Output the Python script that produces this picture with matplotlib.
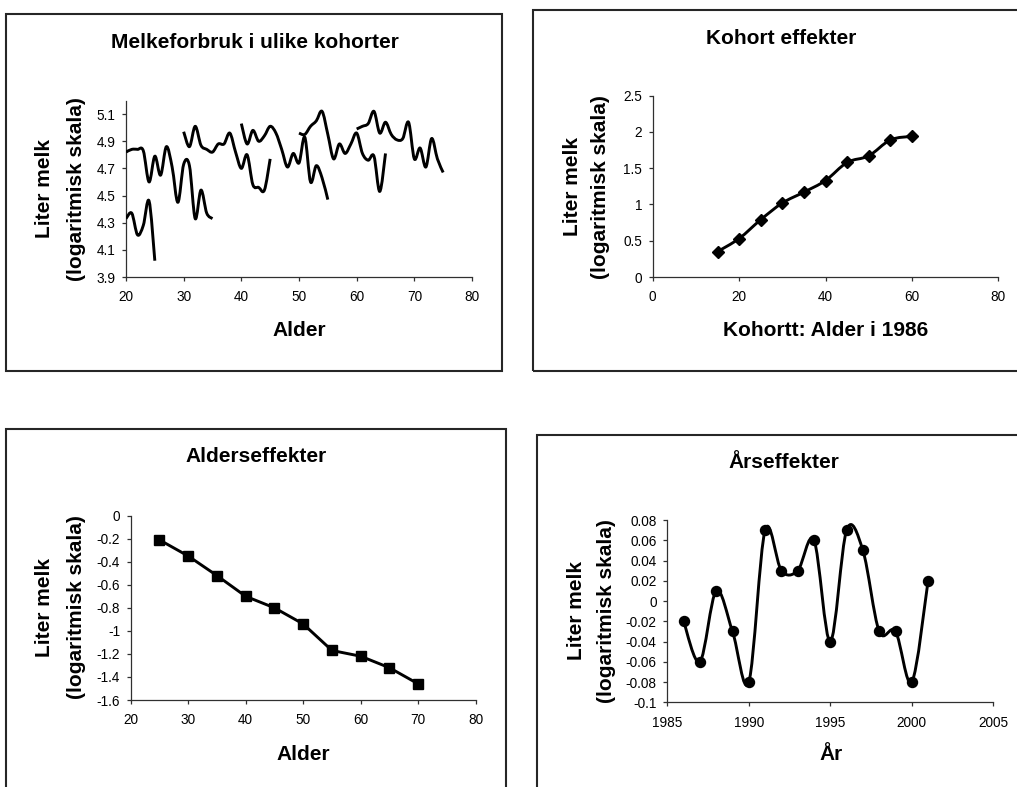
import numpy as np
import matplotlib
matplotlib.use("Agg")
import matplotlib.pyplot as plt
from matplotlib.path import Path
from matplotlib.patches import PathPatch, Rectangle
import matplotlib.ticker as mticker

plt.rcParams["font.family"] = ["Liberation Sans", "DejaVu Sans"]
plt.rcParams["axes.unicode_minus"] = False

W, H = 1017, 787
LINE_CLR = "#000000"
AXIS_CLR = "#303030"
BOX_CLR = "#262626"

# Melkeforbruk i ulike kohorter (alder, log liter)
coh_a_age = [20, 21, 22, 23, 24, 25]
coh_a_val = [4.33, 4.37, 4.21, 4.28, 4.46, 4.02]
coh_b_age = list(range(20, 36))
coh_b_val = [4.82, 4.84, 4.84, 4.83, 4.60, 4.79, 4.65, 4.86,
             4.71, 4.45, 4.73, 4.72, 4.33, 4.54, 4.37, 4.33]
coh_c_age = list(range(30, 46))
coh_c_val = [4.97, 4.86, 5.01, 4.87, 4.84, 4.82, 4.88, 4.88,
             4.96, 4.82, 4.70, 4.80, 4.58, 4.56, 4.54, 4.77]
coh_d_age = list(range(40, 56))
coh_d_val = [5.03, 4.88, 4.98, 4.90, 4.94, 5.01, 4.96, 4.84,
             4.71, 4.81, 4.74, 4.93, 4.60, 4.72, 4.63, 4.47]
coh_e_age = list(range(50, 66))
coh_e_val = [4.96, 4.95, 5.01, 5.05, 5.12, 4.95, 4.77, 4.88,
             4.81, 4.88, 4.96, 4.81, 4.76, 4.79, 4.53, 4.81]
coh_f_age = list(range(60, 76))
coh_f_val = [4.99, 5.01, 5.03, 5.12, 4.96, 5.04, 4.95, 4.91,
             4.92, 5.04, 4.77, 4.85, 4.71, 4.92, 4.77, 4.67]

# Kohort effekter
kohort_alder = [15, 20, 25, 30, 35, 40, 45, 50, 55, 60]
kohort_eff = [0.35, 0.53, 0.79, 1.02, 1.17, 1.33, 1.58, 1.67, 1.89, 1.94]

# Alderseffekter
alder = [25, 30, 35, 40, 45, 50, 55, 60, 65, 70]
alder_eff = [-0.21, -0.35, -0.52, -0.70, -0.80, -0.94, -1.17, -1.22, -1.32, -1.46]

# Årseffekter
aar = list(range(1986, 2002))
aar_eff = [-0.02, -0.06, 0.01, -0.03, -0.08, 0.07, 0.03, 0.03,
           0.06, -0.04, 0.07, 0.05, -0.03, -0.03, -0.08, 0.02]


def fx(px):
    return px / W


def fy(py):
    return 1 - py / H


def smooth_path(x, y):
    # Excel-style smoothed line (Catmull-Rom as cubic Bezier)
    pts = np.column_stack([x, y]).astype(float)
    n = len(pts)
    verts = [pts[0]]
    codes = [Path.MOVETO]
    for i in range(n - 1):
        p0 = pts[i - 1] if i > 0 else pts[i]
        p1, p2 = pts[i], pts[i + 1]
        p3 = pts[i + 2] if i + 2 < n else pts[i + 1]
        verts += [p1 + (p2 - p0) / 6, p2 - (p3 - p1) / 6, p2]
        codes += [Path.CURVE4] * 3
    return Path(verts, codes)


def add_smooth(ax, x, y):
    patch = PathPatch(smooth_path(x, y), fill=False, lw=2.1, ec=LINE_CLR,
                      joinstyle="round", capstyle="butt", zorder=3)
    ax.add_patch(patch)


def fmt(v, _):
    if abs(v) < 1e-9:
        return "0"
    return f"{v:g}"


def make_axes(fig, x0, x1, ytop, ybot):
    ax = fig.add_axes([fx(x0), fy(ybot), fx(x1 - x0), (ybot - ytop) / H])
    for s in ("top", "right"):
        ax.spines[s].set_visible(False)
    for s in ("left", "bottom"):
        ax.spines[s].set_color(AXIS_CLR)
        ax.spines[s].set_linewidth(0.9)
    ax.tick_params(direction="out", length=3.2, width=0.9, color=AXIS_CLR,
                   labelsize=9.8)
    ax.tick_params(axis="x", pad=6.5)
    ax.tick_params(axis="y", pad=4.5)
    ax.yaxis.set_major_formatter(mticker.FuncFormatter(fmt))
    ax.xaxis.set_major_formatter(mticker.FuncFormatter(fmt))
    return ax


def panel_text(fig, title, tx, ty, xlabel, xx, xy, ylx1, ylx2, yly):
    fig.text(fx(tx), fy(ty), title, ha="center", va="baseline",
             fontsize=15, fontweight="bold")
    fig.text(fx(xx), fy(xy), xlabel, ha="center", va="baseline",
             fontsize=15, fontweight="bold")
    fig.text(fx(ylx1), fy(yly), "Liter melk", ha="center", va="center",
             rotation=90, fontsize=15, fontweight="bold")
    fig.text(fx(ylx2), fy(yly), "(logaritmisk skala)", ha="center", va="center",
             rotation=90, fontsize=15, fontweight="bold")


def box(fig, x0, y0, x1, y1):
    fig.add_artist(Rectangle((fx(x0), fy(y1)), fx(x1 - x0), (y1 - y0) / H,
                             transform=fig.transFigure, fill=False,
                             ec=BOX_CLR, lw=1.5))


fig = plt.figure(figsize=(W / 100, H / 100), dpi=100, facecolor="white")

box(fig, 6, 14, 502, 370.5)
box(fig, 532.5, 10, 1030, 370.5)
box(fig, 6, 429, 506, 800)
box(fig, 536.5, 435, 1030, 800)

# Melkeforbruk i ulike kohorter
ax1 = make_axes(fig, 126, 472, 100.5, 277)
for ages, vals in [(coh_a_age, coh_a_val), (coh_b_age, coh_b_val),
                   (coh_c_age, coh_c_val), (coh_d_age, coh_d_val),
                   (coh_e_age, coh_e_val), (coh_f_age, coh_f_val)]:
    add_smooth(ax1, ages, vals)
ax1.set_xlim(20, 80)
ax1.set_ylim(3.9, 5.2)
ax1.set_xticks(range(20, 81, 10))
ax1.set_yticks(np.round(np.arange(3.9, 5.11, 0.2), 1))
panel_text(fig, "Melkeforbruk i ulike kohorter", 254.5, 48,
           "Alder", 299, 336.5, 44.5, 76, 189)

# Kohort effekter
ax2 = make_axes(fig, 652.7, 998.3, 95.7, 277)
add_smooth(ax2, kohort_alder, kohort_eff)
ax2.plot(kohort_alder, kohort_eff, ls="none", marker="D", ms=6.2,
         color=LINE_CLR, zorder=4)
ax2.set_xlim(0, 80)
ax2.set_ylim(0, 2.5)
ax2.set_xticks(range(0, 81, 20))
ax2.set_yticks(np.round(np.arange(0, 2.51, 0.5), 1))
panel_text(fig, "Kohort effekter", 781, 43.5,
           "Kohortt: Alder i 1986", 825.5, 336.5, 573, 601, 187)

# Alderseffekter
ax3 = make_axes(fig, 130.7, 475.7, 515.7, 700)
ax3.plot(alder, alder_eff, "-s", lw=2.1, ms=7.2, color=LINE_CLR, zorder=3)
ax3.set_xlim(20, 80)
ax3.set_ylim(-1.6, 0)
ax3.set_xticks(range(20, 81, 10))
ax3.set_yticks(np.round(np.arange(-1.6, 0.01, 0.2), 1))
panel_text(fig, "Alderseffekter", 256, 461.5,
           "Alder", 303, 760, 45, 76, 607.5)

# Årseffekter
ax4 = make_axes(fig, 667.3, 993.3, 520, 702.3)
add_smooth(ax4, aar, aar_eff)
ax4.plot(aar, aar_eff, ls="none", marker="o", ms=7.2, color=LINE_CLR, zorder=4)
ax4.set_xlim(1985, 2005)
ax4.set_ylim(-0.1, 0.08)
ax4.set_xticks(range(1985, 2006, 5))
ax4.set_yticks(np.round(np.arange(-0.1, 0.081, 0.02), 2))
panel_text(fig, "Årseffekter", 784, 467.5,
           "År", 831, 760, 576, 606, 611)

fig.savefig("out.png", dpi=100, facecolor="white")
